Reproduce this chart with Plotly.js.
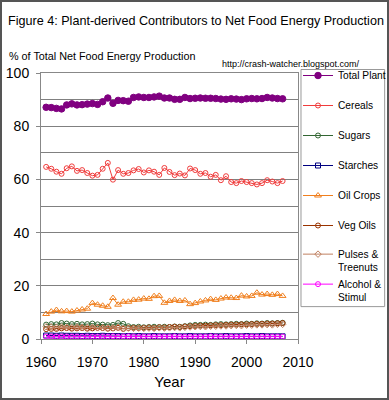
<!DOCTYPE html>
<html>
<head>
<meta charset="utf-8">
<script src="https://cdn.plot.ly/plotly-3.0.1.min.js"></script>
<style>
html,body{margin:0;padding:0;background:#fff;}
#chart{position:absolute;left:0;top:0;width:389px;height:400px;}
#frame{position:absolute;left:0;top:0;width:389px;height:400px;box-sizing:border-box;border:2px solid #555;pointer-events:none;}
</style>
</head>
<body>
<div id="chart"></div>
<div id="frame"></div>
<script>
var years = [1961,1962,1963,1964,1965,1966,1967,1968,1969,1970,1971,1972,1973,1974,1975,1976,1977,1978,1979,1980,1981,1982,1983,1984,1985,1986,1987,1988,1989,1990,1991,1992,1993,1994,1995,1996,1997,1998,1999,2000,2001,2002,2003,2004,2005,2006,2007];
var totalPlant = [87.1,87.0,86.7,86.5,88.0,88.4,88.0,88.1,88.3,88.5,88.2,89.2,90.6,88.6,89.7,89.6,89.4,90.8,91.0,90.8,90.8,91.0,91.3,90.6,90.6,90.1,90.1,90.8,90.4,90.5,90.6,90.5,90.5,90.4,90.2,90.1,90.3,90.2,90.0,90.3,90.4,90.3,90.4,90.8,90.6,90.4,90.3];
var cereals = [64.7,64.0,62.9,62.1,64.2,64.9,63.2,63.5,62.4,61.4,61.7,64.0,66.2,59.9,63.5,62.1,62.4,63.4,63.9,62.6,63.4,62.9,61.7,64.3,62.8,61.6,62.2,61.5,64.1,63.5,62.1,62.4,61.0,61.7,59.7,61.2,59.0,58.6,59.4,59.0,58.6,58.1,58.6,59.7,59.2,58.6,59.4];
var sugars = [5.4,5.6,5.5,6.0,5.8,5.6,5.7,5.5,5.6,5.8,5.5,5.4,5.2,5.3,6.0,5.7,4.8,4.5,4.6,4.4,4.5,4.6,4.5,4.6,4.5,4.7,4.6,4.8,5.1,5.3,5.3,5.4,5.3,5.5,5.6,5.5,5.6,5.7,5.6,5.8,5.7,5.9,5.8,6.0,5.9,6.0,6.1];
var starches = [1.3,1.3,1.2,1.3,1.2,1.2,1.2,1.1,1.2,1.1,1.1,1.2,1.1,1.1,1.1,1.0,1.1,1.0,1.1,1.0,1.0,1.1,1.0,1.0,1.0,1.1,1.0,1.0,1.1,1.0,1.0,1.0,1.1,1.0,1.0,1.1,1.0,1.0,1.0,1.1,1.0,1.0,1.1,1.0,1.0,1.0,1.0];
var oilCrops = [9.4,10.3,10.9,10.4,10.5,10.3,10.7,11.1,11.4,13.5,12.9,12.5,12.1,15.4,12.9,14.0,14.0,14.7,14.8,15.2,15.1,16.1,16.2,13.6,14.3,14.7,14.3,14.5,13.1,13.5,14.1,14.5,15.0,14.7,15.2,15.6,15.5,15.4,16.3,16.0,16.2,17.4,16.7,16.9,16.6,16.9,16.2];
var vegOils = [3.7,3.8,3.8,4.0,4.1,3.9,4.0,4.1,3.9,4.0,4.2,4.1,3.9,4.0,4.2,3.8,4.1,4.2,4.1,4.2,4.3,4.2,4.4,4.3,4.5,4.6,4.5,4.7,4.8,4.9,5.0,5.0,5.1,5.2,5.2,5.3,5.4,5.4,5.5,5.5,5.6,5.7,5.7,5.8,5.8,5.9,6.0];
var pulses = [4.6,4.5,4.4,4.5,4.4,4.3,4.5,4.4,4.3,4.4,4.2,4.3,4.1,4.2,4.4,4.0,4.1,4.0,4.1,4.0,4.1,4.0,4.2,4.1,4.2,4.3,4.2,4.4,4.5,4.6,4.7,4.6,4.8,4.8,4.9,4.9,5.0,5.1,5.0,5.2,5.2,5.3,5.3,5.4,5.3,5.5,5.5];
var alcohol = [0.9,0.9,0.9,0.9,0.9,0.9,0.9,0.9,0.9,0.9,0.9,0.9,0.9,1.0,0.9,0.9,1.0,0.9,0.9,0.9,0.9,0.9,0.9,0.9,0.9,1.0,0.9,0.9,0.9,0.9,0.9,0.9,1.0,0.9,0.9,0.9,0.9,0.9,0.9,0.9,0.9,0.9,0.9,0.9,0.9,0.9,0.9];
var seriesNames = ["Total Plant","Cereals","Sugars","Starches","Oil Crops","Veg Oils","Pulses &<br>Treenuts","Alcohol &<br>Stimul"];
var xTicks = [1960,1970,1980,1990,2000,2010];
var yTicks = [0,20,40,60,80,100];

var FONT = "Liberation Sans, Arial, sans-serif";
var styles = [
  {color:"#800080", symbol:"circle", size:6.5, fill:"#800080", legend:"legend"},
  {color:"#f03c3c", symbol:"circle-open", size:5, legend:"legend"},
  {color:"#336633", symbol:"circle-open", size:5, legend:"legend"},
  {color:"#000080", symbol:"square-open", size:5, legend:"legend"},
  {color:"#f07f1e", symbol:"triangle-up-open", size:6, legend:"legend"},
  {color:"#993300", symbol:"circle-open", size:5, legend:"legend"},
  {color:"#c08060", symbol:"diamond-open", size:5, legend:"legend2"},
  {color:"#ff00ff", symbol:"circle-open", size:5, legend:"legend3"}
];
var values = [totalPlant,cereals,sugars,starches,oilCrops,vegOils,pulses,alcohol];
var traces = values.map(function(v,i){
  var s = styles[i];
  return {
    x: years, y: v, name: seriesNames[i], type:"scatter", mode:"lines+markers",
    legendgroup: "g"+i, legend: s.legend,
    line:{color:s.color, width:1},
    marker:{symbol:s.symbol, size:s.size, color:s.fill||s.color, line:{color:s.color, width:1}}
  };
});

function legendAt(topPx, valign){
  return {xref:"container", yref:"container", x:298/389, xanchor:"left", y:1-topPx/400, yanchor:"top",
          borderwidth:0, bgcolor:"rgba(0,0,0,0)", valign:valign,
          font:{family:FONT, size:10.2, color:"#000"}, traceorder:"grouped", tracegroupgap:11, itemwidth:30};
}

var layout = {
  width:389, height:400,
  margin:{l:41, r:90, t:72.5, b:60.5},
  paper_bgcolor:"#fff", plot_bgcolor:"#fff",
  font:{family:FONT, size:10, color:"#000"},
  showlegend:true,
  legend: legendAt(61, "middle"),
  legend2: legendAt(241, "top"),
  legend3: legendAt(271, "top"),
  xaxis:{range:[1960,2010], tickvals:xTicks, ticktext:xTicks.map(String), showgrid:false, zeroline:false,
         showline:true, linecolor:"#888", linewidth:1, ticks:"outside", ticklen:4, tickcolor:"#888",
         tickfont:{family:FONT, size:14}, mirror:true, ticklabelstandoff:6,
         title:{text:"Year", font:{family:FONT, size:15}, standoff:7}},
  yaxis:{range:[0,100], tickvals:yTicks, ticktext:yTicks.map(String), showgrid:false, zeroline:false,
         showline:true, linecolor:"#888", linewidth:1, ticks:"outside", ticklen:4, tickcolor:"#888",
         tickfont:{family:FONT, size:14}, mirror:true, ticklabelstandoff:4,
         minor:{dtick:10, tick0:0, showgrid:true, gridcolor:"#808080", gridwidth:1, ticks:""}},
  title:{text:"Figure 4: Plant-derived Contributors to Net Food Energy Production", font:{family:FONT, size:12.6},
         xref:"container", yref:"container", x:8/389, xanchor:"left", y:1-21/400, yanchor:"middle"},
  shapes:[
    {type:"rect", xref:"paper", yref:"paper", x0:(302-41)/258, x1:(386-41)/258, y0:(339.5-307)/267, y1:(339.5-69)/267,
     line:{color:"#999", width:1}, fillcolor:"rgba(0,0,0,0)", layer:"below"}
  ],
  annotations:[
    {text:"% of Total Net Food Energy Production", xref:"paper", yref:"paper", x:(7-41)/258, y:(339.5-55)/267, xanchor:"left", yanchor:"middle", showarrow:false, font:{family:FONT, size:10.8}},
    {text:"http://crash-watcher.blogspot.com/", xref:"paper", yref:"paper", x:(221-41)/258, y:(339.5-63)/267, xanchor:"left", yanchor:"middle", showarrow:false, font:{family:FONT, size:9}}
  ]
};

Plotly.newPlot("chart", traces, layout, {displayModeBar:false, staticPlot:true});
</script>
</body>
</html>
